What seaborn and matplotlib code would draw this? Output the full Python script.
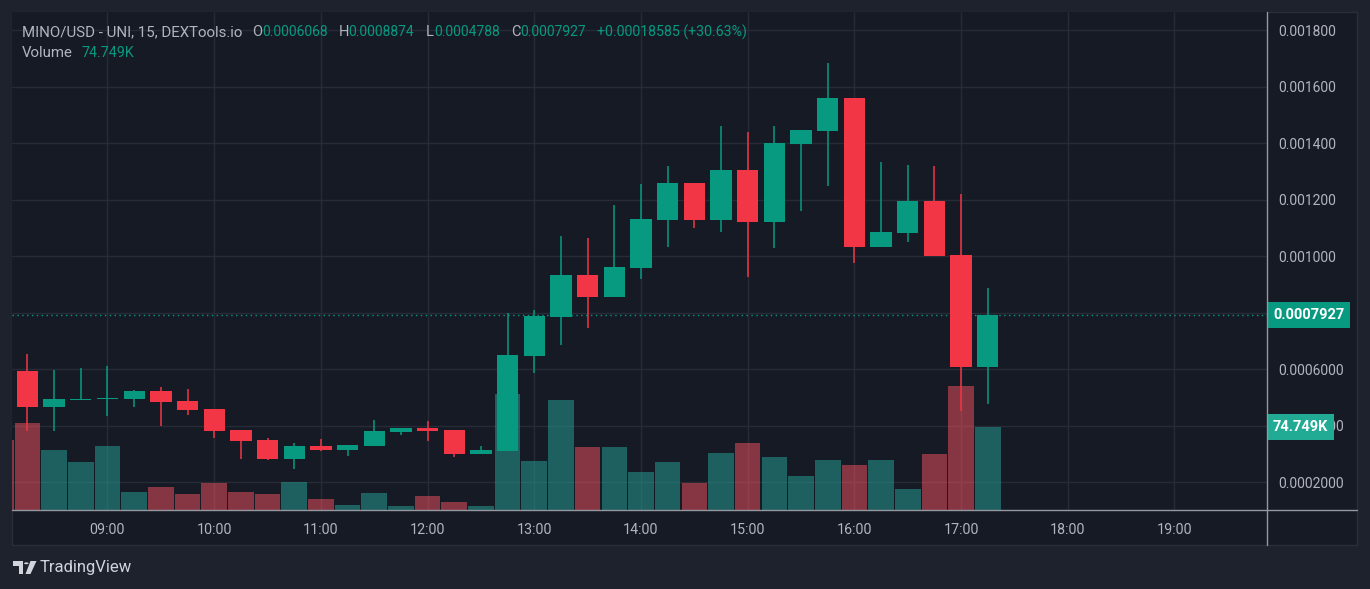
import matplotlib
matplotlib.use("Agg")
import matplotlib.pyplot as plt
from matplotlib.patches import Rectangle, Polygon, Circle
from matplotlib.lines import Line2D
from matplotlib.transforms import blended_transform_factory
import seaborn as sns
import pandas as pd
import numpy as np

# ---------------- data ----------------
times = ["08:00", "08:15", "08:30", "08:45", "09:00", "09:15", "09:30", "09:45",
         "10:00", "10:15", "10:30", "10:45", "11:00", "11:15", "11:30", "11:45",
         "12:00", "12:15", "12:30", "12:45", "13:00", "13:15", "13:30", "13:45",
         "14:00", "14:15", "14:30", "14:45", "15:00", "15:15", "15:30", "15:45",
         "16:00", "16:15", "16:30", "16:45", "17:00", "17:15"]
opens = [0.000620, 0.000594, 0.000468, 0.000492, 0.000495, 0.000495, 0.000523, 0.000488,
         0.000459, 0.000385, 0.000350, 0.000282, 0.000328, 0.000314, 0.000328, 0.000378,
         0.000392, 0.000385, 0.000300, 0.000311, 0.000647, 0.000785, 0.000934, 0.000856,
         0.000959, 0.001128, 0.001259, 0.001128, 0.001305, 0.001121, 0.001398, 0.001444,
         0.001560, 0.001033, 0.001082, 0.001196, 0.001005, 0.0006068]
highs = [0.000640, 0.000654, 0.000598, 0.000605, 0.000612, 0.000527, 0.000537, 0.000530,
         0.000459, 0.000385, 0.000357, 0.000339, 0.000353, 0.000332, 0.000421, 0.000392,
         0.000417, 0.000385, 0.000328, 0.000799, 0.000810, 0.001072, 0.001065, 0.001182,
         0.001256, 0.001320, 0.001259, 0.001461, 0.001440, 0.001461, 0.001447, 0.001684,
         0.001560, 0.001334, 0.001323, 0.001320, 0.001221, 0.0008874]
lows = [0.000585, 0.000383, 0.000383, 0.000492, 0.000435, 0.000468, 0.000399, 0.000438,
        0.000357, 0.000282, 0.000279, 0.000247, 0.000311, 0.000293, 0.000328, 0.000367,
        0.000346, 0.000290, 0.000300, 0.000311, 0.000587, 0.000686, 0.000746, 0.000856,
        0.000920, 0.001033, 0.001100, 0.001086, 0.000927, 0.001029, 0.001160, 0.001249,
        0.000976, 0.001033, 0.001051, 0.001001, 0.000452, 0.0004788]
closes = [0.000594, 0.000468, 0.000495, 0.000494, 0.000498, 0.000523, 0.000484, 0.000456,
          0.000383, 0.000347, 0.000282, 0.000328, 0.000314, 0.000332, 0.000382, 0.000392,
          0.000382, 0.000300, 0.000314, 0.000651, 0.000789, 0.000934, 0.000856, 0.000962,
          0.001132, 0.001259, 0.001128, 0.001305, 0.001121, 0.001401, 0.001447, 0.001560,
          0.001033, 0.001086, 0.001196, 0.001001, 0.0006068, 0.0007927]
volumes_k = [63.0, 78.4, 54.0, 43.2, 57.6, 16.2, 20.7, 14.4, 24.3, 16.2, 14.4, 25.2,
             9.9, 4.5, 15.3, 3.6, 12.6, 7.2, 3.6, 104.5, 44.1, 99.1, 56.7, 56.7,
             34.2, 43.2, 24.3, 51.3, 60.3, 47.7, 30.6, 45.0, 40.5, 45.0, 18.9, 50.4,
             111.7, 74.749]

price_ticks = [0.0002, 0.0004, 0.0006, 0.0008, 0.0010, 0.0012, 0.0014, 0.0016, 0.0018]
# 0.0008000 sits completely under the last-price tag in the reference, so it is left blank
price_tick_labels = ["0.0002000", "0.0004000", "0.0006000", "", "0.001000",
                     "0.001200", "0.001400", "0.001600", "0.001800"]
time_tick_labels = ["09:00", "10:00", "11:00", "12:00", "13:00", "14:00",
                    "15:00", "16:00", "17:00", "18:00", "19:00"]

title_main = "MINO/USD - UNI, 15, DEXTools.io"
ohlc_keys = ["O", "H", "L", "C"]
ohlc_vals = ["0.0006068", "0.0008874", "0.0004788", "0.0007927"]
change_text = "+0.00018585 (+30.63%)"
last_price_label = "0.0007927"
last_price = 0.0007927
last_volume_label = "74.749K"
last_volume = 74.749

# ---------------- style ----------------
OUTER = "#1e222d"
PANE = "#161a25"
GRID = "#272b38"
TEXT = "#b2b5be"
UP = "#089981"
DOWN = "#f23645"
VOL_UP = "#26a69a"
VOL_DOWN = "#f7525f"

sns.set_theme(style="dark", rc={"axes.facecolor": PANE, "figure.facecolor": OUTER})
plt.rcParams['font.family'] = ['Roboto', 'DejaVu Sans']

W, H = 1370, 589
def fx(x):
    return x / W
def fy(y):
    return 1 - y / H

def to_hours(t):
    h, m = t.split(":")
    return int(h) + int(m) / 60.0

hours = np.array([to_hours(t) for t in times])
o = np.array(opens); c = np.array(closes); hi = np.array(highs); lo = np.array(lows)
up = c >= o
direction = np.where(up, "up", "down")

df = pd.DataFrame({"hour": hours, "volume": volumes_k, "dir": direction})

fig = plt.figure(figsize=(13.7, 5.89), dpi=100)
fig.patch.set_facecolor(OUTER)
fig.patches.append(Rectangle((fx(12), fy(545)), fx(1357) - fx(12), fy(12) - fy(545),
                             transform=fig.transFigure, fc=PANE, ec="#2a2e39", lw=1, zorder=0))

rect = [fx(12), fy(510), fx(1267) - fx(12), fy(12) - fy(510)]
XLIM = (8.105, 19.867)
YLIM = (0.000102, 0.0018648)
VLIM = (0, 448.5)

# background axes: grid + tick labels
ax = fig.add_axes(rect, zorder=1)
ax.set_facecolor(PANE)
ax.set_xlim(*XLIM)
ax.set_ylim(*YLIM)
ax.set_xticks([to_hours(t) for t in time_tick_labels])
ax.set_xticklabels(time_tick_labels)
ax.set_yticks(price_ticks)
ax.set_yticklabels(price_tick_labels)
ax.yaxis.tick_right()
ax.tick_params(axis="y", length=0, pad=8, labelsize=10, labelcolor=TEXT)
ax.tick_params(axis="x", length=0, pad=9, labelsize=10.3, labelcolor=TEXT)
ax.grid(True, color=GRID, linewidth=1)
for s in ax.spines.values():
    s.set_visible(False)

# volume axes
ax_vol = fig.add_axes(rect, zorder=2)
ax_vol.patch.set_alpha(0)
sns.barplot(data=df, x="hour", y="volume", hue="dir", hue_order=["up", "down"],
            palette={"up": VOL_UP, "down": VOL_DOWN}, native_scale=True, dodge=False,
            width=0.96, saturation=1, alpha=0.5, errorbar=None, legend=False, ax=ax_vol,
            linewidth=0)
ax_vol.set_xlim(*XLIM)
ax_vol.set_ylim(*VLIM)
ax_vol.axis("off")

# price (candles) axes
axp = fig.add_axes(rect, zorder=3)
axp.patch.set_alpha(0)
colors = np.where(up, UP, DOWN)
axp.vlines(hours, lo, hi, colors=colors, linewidth=1.1, zorder=2)
body_bottom = np.minimum(o, c)
body_h = np.maximum(np.abs(c - o), 0.0000035)
axp.bar(hours, body_h, bottom=body_bottom, width=0.2, color=colors, linewidth=0, zorder=3)
axp.axhline(last_price, color=UP, linestyle=(0, (1, 2.5)), linewidth=1, zorder=1)
axp.set_xlim(*XLIM)
axp.set_ylim(*YLIM)
axp.axis("off")

# price tag
tr_p = blended_transform_factory(axp.transAxes, axp.transData)
axp.text(1.0 + 6 / 1255, last_price, last_price_label, transform=tr_p, ha="left", va="center",
         color="white", fontsize=10.5, fontweight="bold", clip_on=False, zorder=10,
         bbox=dict(boxstyle="square,pad=0.4", fc=UP, ec="none"))
tr_v = blended_transform_factory(ax_vol.transAxes, ax_vol.transData)
ax_vol.text(1.0 + 6 / 1255, last_volume, last_volume_label, transform=tr_v, ha="left",
            va="center", color="white", fontsize=10.5, fontweight="bold", clip_on=False,
            zorder=10, bbox=dict(boxstyle="square,pad=0.4", fc="#22ab94", ec="none"))

# separators
fig.lines.append(Line2D([fx(1267), fx(1267)], [fy(12), fy(545)], transform=fig.transFigure,
                        color="#9598a1", lw=1, zorder=20))
fig.lines.append(Line2D([fx(12), fx(1357)], [fy(510), fy(510)], transform=fig.transFigure,
                        color="#9598a1", lw=1, zorder=20))

# legend line
ty = fy(32)
fig.text(fx(22), ty, title_main, color=TEXT, fontsize=10.8, va="center", ha="left")
key_x = [252, 339, 426, 511]
val_x = [262, 348, 434, 520]
for k, v, kx, vx in zip(ohlc_keys, ohlc_vals, key_x, val_x):
    fig.text(fx(kx), ty, k, color=TEXT, fontsize=10.5, va="center", ha="left")
    fig.text(fx(vx), ty, v, color=UP, fontsize=10, va="center", ha="left")
fig.text(fx(597), ty, change_text, color=UP, fontsize=10.2, va="center", ha="left")
fig.text(fx(22), fy(53), "Volume", color=TEXT, fontsize=10.8, va="center", ha="left")
fig.text(fx(81), fy(53), last_volume_label, color=UP, fontsize=10.3, va="center", ha="left")

# TradingView logo + text
LOGO = "#d1d4dc"
def P(pts):
    return [(fx(x), fy(y)) for x, y in pts]
fig.patches.append(Polygon(P([(13, 561), (23, 561), (23, 574), (18.5, 574), (18.5, 565.5), (13, 565.5)]),
                           closed=True, transform=fig.transFigure, fc=LOGO, ec="none"))
fig.patches.append(Circle((fx(26.3), fy(563.3)), 2.2 / W, transform=fig.transFigure, fc=LOGO, ec="none"))
fig.patches.append(Polygon(P([(30.5, 561), (36.5, 561), (30.5, 574), (25.5, 574)]),
                           closed=True, transform=fig.transFigure, fc=LOGO, ec="none"))
fig.text(fx(40), fy(567.5), "TradingView", color=LOGO, fontsize=12, va="center", ha="left")

fig.savefig("out.png", dpi=100, facecolor=OUTER)
